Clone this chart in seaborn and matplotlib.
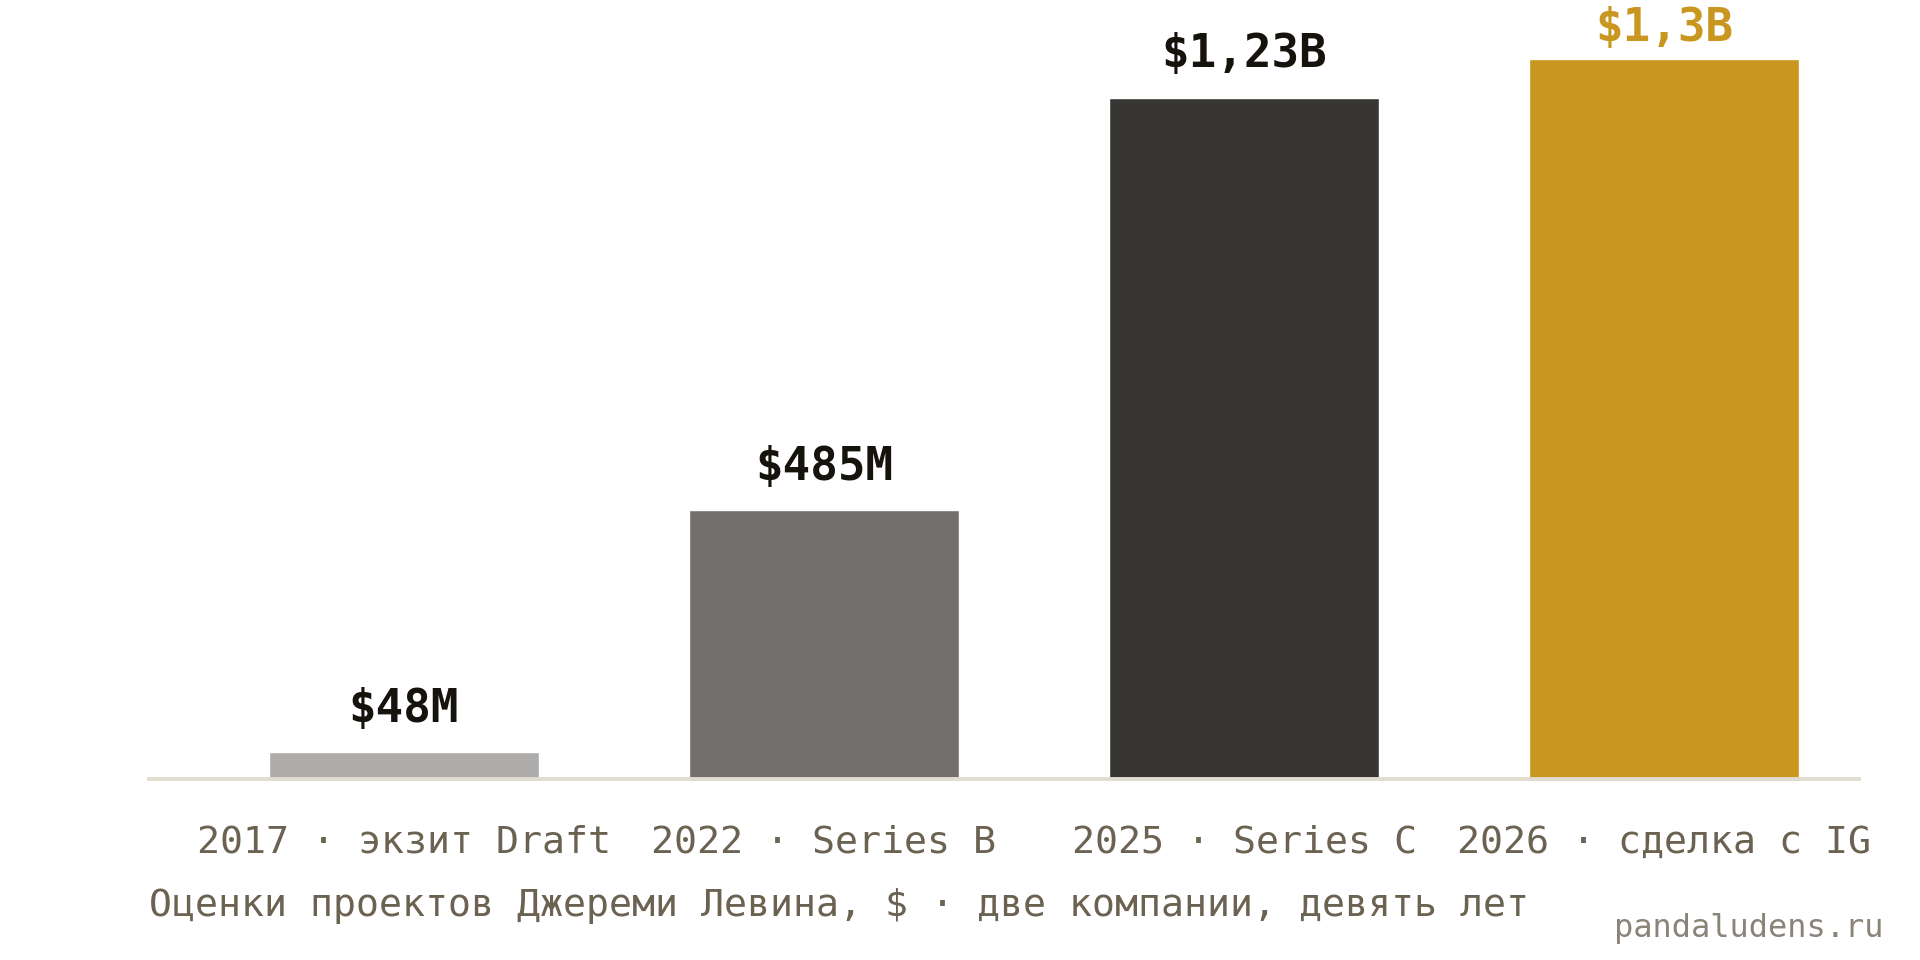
import matplotlib
matplotlib.use("Agg")
import matplotlib.pyplot as plt
import seaborn as sns
import pandas as pd

# Data
categories = ["2017 · экзит Draft", "2022 · Series B", "2025 · Series C", "2026 · сделка с IG"]
values = [48, 485, 1230, 1300]  # $M
value_labels = ["$48M", "$485M", "$1,23B", "$1,3B"]
bar_colors = ["#adacaa", "#71706c", "#383632", "#c9961f"]
label_colors = ["#16120c", "#16120c", "#16120c", "#c9961f"]

sns.set_theme(style="white")
plt.rcParams['font.family'] = ['DejaVu Sans Mono', 'DejaVu Sans']

df = pd.DataFrame({"cat": categories, "val": values})

fig = plt.figure(figsize=(19.2, 9.6), dpi=100)
ax = fig.add_axes([0.0776, 0.1885, 0.8906, 0.8115])

sns.barplot(data=df, x="cat", y="val", hue="cat", palette=bar_colors,
            width=0.643, saturation=1, legend=False, ax=ax)

ax.set_xlim(-0.607, 3.464)
ax.set_ylim(0, 1406)

# value labels above bars (last one sits closer to its bar)
offsets = [22, 22, 22, 13]
for i, (v, lab, c) in enumerate(zip(values, value_labels, label_colors)):
    ax.annotate(lab, (i, v), xytext=(0, offsets[i]), textcoords="offset points",
                ha="center", va="baseline", fontsize=33, fontweight="bold",
                color=c, annotation_clip=False)

for s in ["top", "right", "left"]:
    ax.spines[s].set_visible(False)
ax.spines["bottom"].set_color("#e0dccf")
ax.spines["bottom"].set_linewidth(2.8)
ax.spines["bottom"].set_zorder(5)

ax.set_yticks([])
ax.set_xlabel("")
ax.set_ylabel("")
ax.tick_params(axis="x", length=0, pad=33, labelsize=27.5, labelcolor="#6b6252")

fig.text(0.0776, 1 - 906 / 960, "Оценки проектов Джереми Левина, $ · две компании, девять лет",
         fontsize=27.5, color="#6b6252", ha="left", va="center")
fig.text(0.981, 1 - 928 / 960, "pandaludens.ru", fontsize=23, color="#8a8478",
         ha="right", va="center")

fig.savefig("out.png", dpi=100, facecolor="white")
